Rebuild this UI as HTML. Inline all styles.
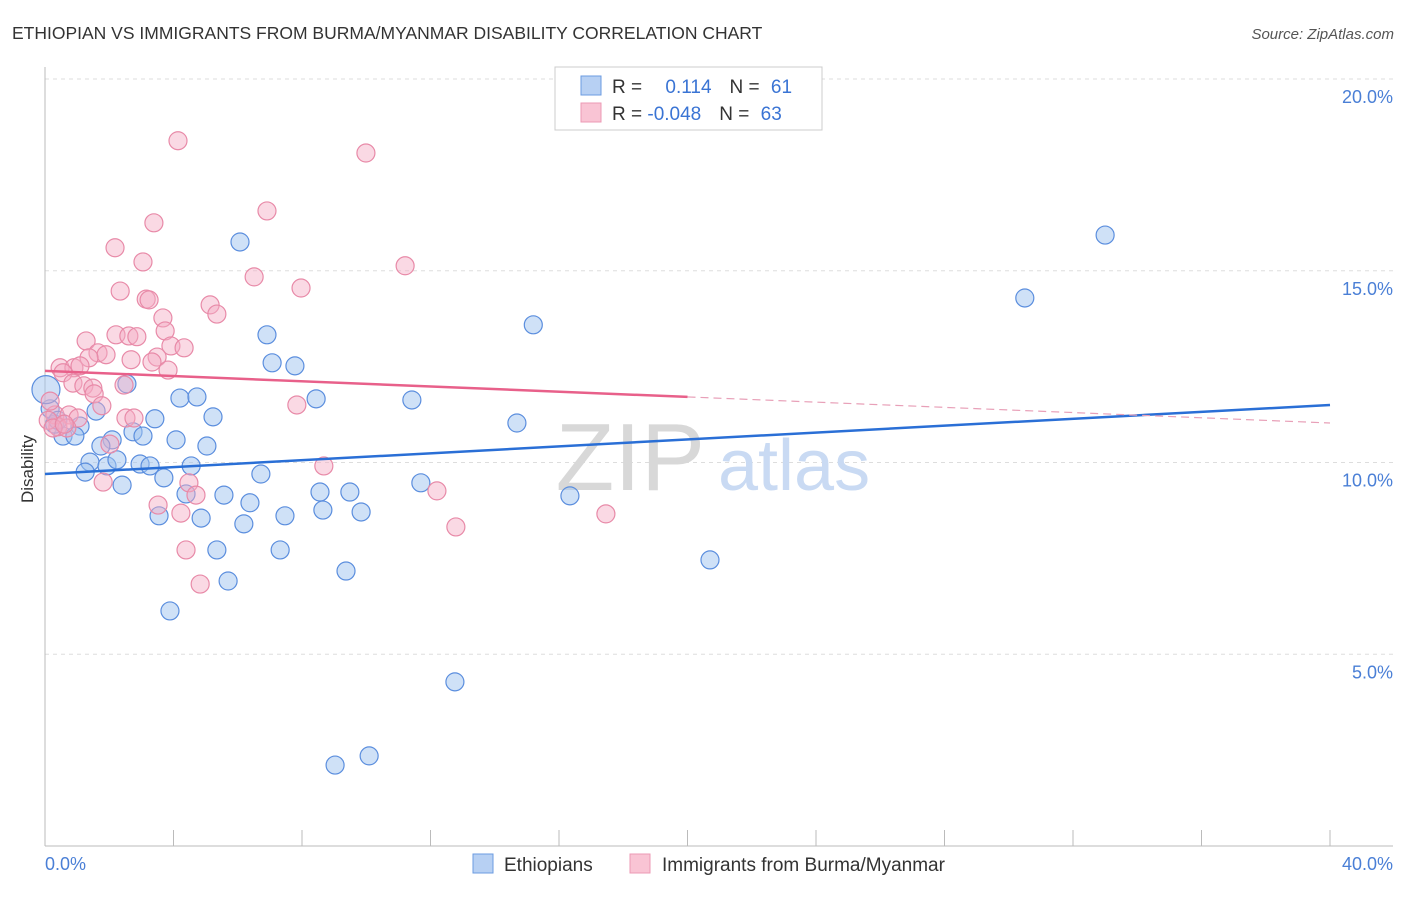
<!DOCTYPE html>
<html><head><meta charset="utf-8"><style>
body{margin:0;background:#fff;font-family:"Liberation Sans",sans-serif}
svg text{font-family:"Liberation Sans",sans-serif}
</style></head><body>
<svg width="1406" height="892" xmlns="http://www.w3.org/2000/svg">
<text x="12" y="39" font-size="17.5" fill="#333">ETHIOPIAN VS IMMIGRANTS FROM BURMA/MYANMAR DISABILITY CORRELATION CHART</text>
<text x="1394" y="39" font-size="15" fill="#555" font-style="italic" text-anchor="end">Source: ZipAtlas.com</text>
<g id="grid"></g>
<text x="705" y="490" font-size="96" fill="#d8d8d8" text-anchor="end" font-family="Liberation Serif">ZIP</text>
<text x="718" y="490" font-size="72" fill="#c9daf3">atlas</text>
<line x1="45" y1="67" x2="45" y2="846" stroke="#bbb"/>
<line x1="45" y1="846" x2="1393" y2="846" stroke="#bbb"/>
<g id="xticks"></g>
<text x="20" y="456" font-size="17" fill="#333" transform="rotate(-90 33 456)" text-anchor="middle">Disability</text>
<g id="ylabels"></g>
<text x="45" y="870" font-size="18" fill="#4a7fd6">0.0%</text>
<text x="1393" y="870" font-size="18" fill="#4a7fd6" text-anchor="end">40.0%</text>
<g id="pts"></g>
<g id="lines"></g>
<g>
<rect x="555" y="67" width="267" height="63" fill="#fff" stroke="#ccc"/>
<rect x="581" y="76" width="20" height="19" fill="#b7d0f3" stroke="#6b9be0"/>
<rect x="581" y="103" width="20" height="19" fill="#f9c4d4" stroke="#ec9ab4"/>
<text x="612" y="93" font-size="19" fill="#333">R = <tspan fill="#3a74d4" dx="18">0.114</tspan><tspan dx="18" fill="#333">N = </tspan><tspan fill="#3a74d4" dx="6">61</tspan></text>
<text x="612" y="120" font-size="19" fill="#333">R = <tspan fill="#3a74d4">-0.048</tspan><tspan dx="18" fill="#333">N = </tspan><tspan fill="#3a74d4" dx="6">63</tspan></text>
</g>
<g>
<rect x="473" y="854" width="20" height="19" fill="#b7d0f3" stroke="#6b9be0"/>
<text x="504" y="871" font-size="19" fill="#333">Ethiopians</text>
<rect x="630" y="854" width="20" height="19" fill="#f9c4d4" stroke="#ec9ab4"/>
<text x="662" y="871" font-size="19" fill="#333">Immigrants from Burma/Myanmar</text>
</g>
</svg>
<script>
const yTicks=[5,10,15,20];
const yTickLabels=["5.0%","10.0%","15.0%","20.0%"];
const xTicks=[0,4,8,12,16,20,24,28,32,36,40];
const blueX=[33.0,30.5,15.2,6.07,6.91,7.07,7.78,2.55,4.2,4.73,8.44,11.42,3.42,5.23,1.59,1.09,0.56,0.93,14.69,2.74,3.05,2.09,4.08,5.04,1.74,1.40,1.25,1.93,2.96,3.27,4.55,2.24,3.70,6.72,2.40,11.70,5.57,4.39,8.56,9.49,16.34,6.38,3.55,4.86,7.47,8.65,9.84,6.19,5.35,7.32,20.70,9.37,5.70,3.89,12.76,10.09,9.03,0.16,0.3,0.4,0.03];
const blueY=[15.93,14.29,13.59,15.75,13.33,12.60,12.52,12.05,11.68,11.71,11.66,11.63,11.14,11.19,11.34,10.95,10.69,10.69,11.03,10.80,10.69,10.59,10.59,10.43,10.43,10.01,9.75,9.91,9.96,9.91,9.91,10.07,9.60,9.70,9.41,9.47,9.15,9.18,9.23,9.23,9.13,8.95,8.61,8.55,8.61,8.76,8.71,8.40,7.72,7.72,7.46,7.17,6.91,6.13,4.28,2.35,2.11,11.4,11.0,11.1,11.9];
const pinkX=[4.14,9.99,6.91,3.39,2.18,3.05,11.21,6.51,7.97,2.34,3.15,3.24,5.14,5.35,3.67,3.74,2.21,2.61,2.86,1.28,3.92,4.33,1.65,1.90,1.37,3.49,3.33,2.68,3.83,0.47,0.90,1.09,0.56,0.87,1.21,1.49,2.46,1.53,7.84,1.77,0.31,0.75,1.03,2.52,2.77,0.40,0.68,2.02,8.68,12.20,1.81,4.48,4.70,3.52,4.23,17.46,12.79,4.39,4.83,0.16,0.1,0.25,0.6];
const pinkY=[18.39,18.07,16.56,16.25,15.60,15.23,15.13,14.84,14.55,14.47,14.26,14.24,14.11,13.87,13.77,13.43,13.33,13.30,13.28,13.17,13.04,12.99,12.86,12.81,12.73,12.75,12.62,12.68,12.41,12.47,12.47,12.52,12.34,12.07,12.00,11.94,12.02,11.79,11.50,11.48,11.24,11.24,11.16,11.16,11.16,10.93,10.90,10.48,9.91,9.26,9.49,9.47,9.15,8.89,8.68,8.66,8.32,7.72,6.83,11.6,11.1,10.9,11.0];
const blueTrend=[9.70,11.50];
const pinkTrend=[12.39,11.03];
const sx=v=>45+v/40*1285;
const sy=v=>846-v*38.35;
const NS="http://www.w3.org/2000/svg";
function mk(tag,attrs,parent){const e=document.createElementNS(NS,tag);for(const k in attrs)e.setAttribute(k,attrs[k]);document.getElementById(parent).appendChild(e);return e;}
yTicks.forEach((t,i)=>{
 const l=mk('line',{x1:45,x2:1393,y1:sy(t),y2:sy(t),stroke:'#ddd','stroke-dasharray':'4,4'},'grid');
 
 
 const tx=mk('text',{x:1393,y:sy(t)+24,'font-size':18,fill:'#4a7fd6','text-anchor':'end'},'ylabels');
 tx.textContent=yTickLabels[i];
 
 
});
xTicks.forEach(t=>{
 const l=mk('line',{x1:sx(t),x2:sx(t),y1:830,y2:846,stroke:'#bbb'},'xticks');
 
 
});
blueX.forEach((x,i)=>{
 const c=mk('circle',{cx:sx(x),cy:sy(blueY[i]),r:(i===blueX.length-1?14:9),fill:'rgba(160,195,240,0.5)',stroke:'#5b8ede','stroke-width':1.2},'pts');
 
 
});
pinkX.forEach((x,i)=>{
 const c=mk('circle',{cx:sx(x),cy:sy(pinkY[i]),r:9,fill:'rgba(245,170,195,0.45)',stroke:'#e88aa8','stroke-width':1.2},'pts');
 
 
});
const bl=mk('line',{x1:sx(0),y1:sy(blueTrend[0]),x2:sx(40),y2:sy(blueTrend[1]),stroke:'#2a6fd6','stroke-width':2.5},'lines');


const pm=(pinkTrend[0]+pinkTrend[1])/2;
const pl=mk('line',{x1:sx(0),y1:sy(pinkTrend[0]),x2:sx(20),y2:sy(pm),stroke:'#e8608a','stroke-width':2.5},'lines');


const pd=mk('line',{x1:sx(20),y1:sy(pm),x2:sx(40),y2:sy(pinkTrend[1]),stroke:'#e8a0b8','stroke-width':1.2,'stroke-dasharray':'8,5'},'lines');


</script>
</body></html>
